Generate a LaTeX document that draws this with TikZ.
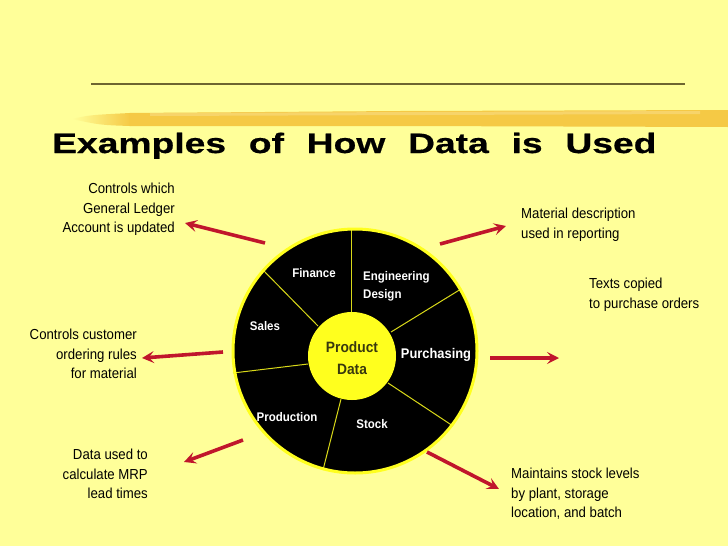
\documentclass[tikz,border=0pt]{standalone}
\usepackage{fontspec}
\setmainfont{Liberation Sans}
\newfontfamily\titlefont[FakeStretch=1.33,WordSpace=2.2,FakeBold=0.6]{Liberation Sans}
\newfontfamily\labelfont[FakeStretch=0.91]{Liberation Sans}
\newfontfamily\segfont[FakeStretch=0.92]{Liberation Sans}
\usetikzlibrary{arrows.meta}
\definecolor{bgyellow}{HTML}{FFFF99}
\definecolor{gold}{HTML}{F5C945}
\definecolor{rulecol}{HTML}{6E6630}
\definecolor{arrowred}{HTML}{C0162C}
\definecolor{discyellow}{HTML}{FFFF1E}
\definecolor{pdtext}{HTML}{38380E}
\tikzset{
  lbl/.style={inner sep=0pt, font=\labelfont\fontsize{14.5}{19.5}\selectfont},
  lblR/.style={lbl, align=right, anchor=north east},
  lblL/.style={lbl, align=left, anchor=north west},
  seg/.style={inner sep=0pt, text=white, font=\segfont\bfseries\fontsize{12.5}{18}\selectfont},
  redarrow/.style={draw=arrowred, line width=3.6pt,
    -{Stealth[length=12pt,width=12pt,inset=5pt]}},
  divider/.style={draw=discyellow!85!black, line width=1pt}
}
\begin{document}
\begin{tikzpicture}[x=1pt,y=-1pt]
\useasboundingbox (0,0) rectangle (728,546);
\fill[bgyellow] (0,0) rectangle (728,546);
% top rule
\draw[rulecol, line width=1.3pt] (91,84) -- (685,84);
% brush stroke
\shade[left color=bgyellow, right color=gold] (72,119) .. controls (90,115) .. (130,113) -- (130,126) .. controls (100,125) .. (72,119) -- cycle;
\fill[gold] (129.5,113) -- (400,111) -- (728,110) -- (728,127) -- (400,126) -- (129.5,126) -- cycle;
\fill[gold!60!white, opacity=0.5] (150,113) -- (700,111) -- (700,114) -- (150,116) -- cycle;
% title
\node[anchor=base west, inner sep=0pt, font=\titlefont\bfseries\fontsize{28}{30}\selectfont] (title) at (52,153) {Examples of How Data is Used};
% disc
\fill[black] (355,351) circle (122);
\draw[divider] (351,312) -- (351,229);
\draw[divider] (318,326) -- (263,270);
\draw[divider] (308,364) -- (233,373);
\draw[divider] (341,399) -- (323,470);
\draw[divider] (388,383) -- (453,426);
\draw[divider] (391,332) -- (461,289);
\draw[discyellow, line width=3pt] (355,351) circle (122);
\fill[discyellow] (352,356) circle (44);
\node[inner sep=0pt, align=center, text=pdtext, font=\segfont\bfseries\fontsize{15}{22}\selectfont] (pd) at (352,358) {Product\\Data};
% segment labels
\node[seg] (fin) at (314,273) {Finance};
\node[seg, anchor=west, align=left] (eng) at (363,286) {Engineering\\Design};
\node[seg] (sales) at (265,326) {Sales};
\node[seg, font=\segfont\bfseries\fontsize{14}{18}\selectfont] (pur) at (436,355) {Purchasing};
\node[seg] (prod) at (287,417) {Production};
\node[seg] (stock) at (372,424) {Stock};
% text blocks
\node[lblR] (t1) at (175,183) {Controls which\\General Ledger\\Account is updated};
\node[lblL] (t2) at (521,208) {Material description\\used in reporting};
\node[lblL] (t3) at (589,278) {Texts copied\\to purchase orders};
\node[lblR] (t4) at (137,329) {Controls customer\\ordering rules\\for material};
\node[lblR] (t5) at (148,449) {Data used to\\calculate MRP\\lead times};
\node[lblL] (t6) at (511,468) {Maintains stock levels\\by plant, storage\\location, and batch};
% arrows
\coordinate (a1s) at (265,243); \coordinate (a1e) at (185,223);
\coordinate (a2s) at (440,244); \coordinate (a2e) at (506,226);
\coordinate (a3s) at (223,352); \coordinate (a3e) at (142,358);
\coordinate (a4s) at (490,358); \coordinate (a4e) at (559,358);
\coordinate (a5s) at (243,440); \coordinate (a5e) at (184,462);
\coordinate (a6s) at (427,452); \coordinate (a6e) at (499,489);
\draw[redarrow] (a1s) -- (a1e);
\draw[redarrow] (a2s) -- (a2e);
\draw[redarrow] (a3s) -- (a3e);
\draw[redarrow] (a4s) -- (a4e);
\draw[redarrow] (a5s) -- (a5e);
\draw[redarrow] (a6s) -- (a6e);
\end{tikzpicture}
\end{document}
